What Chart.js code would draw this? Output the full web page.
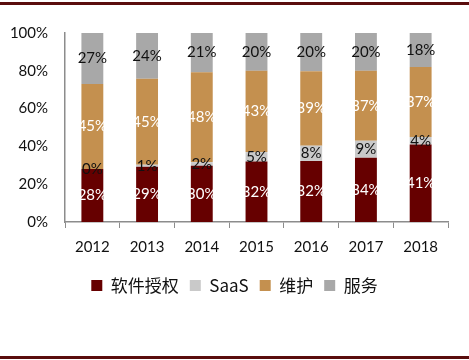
<!DOCTYPE html>
<html>
<head>
<meta charset="utf-8">
<script src="https://cdn.jsdelivr.net/npm/chart.js@4"></script>
<style>
  html, body { margin: 0; padding: 0; background: #fff; }
  #wrap { position: relative; width: 469px; height: 360px; overflow: hidden; }
  #topline { position: absolute; left: 0; top: 2px; width: 469px; height: 3px; background: #5a0d0d; }
  #botline { position: absolute; left: 0; top: 356px; width: 469px; height: 3px; background: #5a0d0d; }
  canvas { position: absolute; left: 0; top: 0; }
</style>
</head>
<body>
<div id="wrap">
  <canvas id="c" width="469" height="360"></canvas>
  <div id="topline"></div>
  <div id="botline"></div>
</div>
<script>
const categories = ['2012', '2013', '2014', '2015', '2016', '2017', '2018'];
const license  = [28, 29, 30, 32, 32, 34, 41];
const saas     = [0, 1, 2, 5, 8, 9, 4];
const maintain = [45, 45, 48, 43, 39, 37, 37];
const service  = [27, 24, 21, 20, 20, 20, 18];
const yTicks = ['0%', '20%', '40%', '60%', '80%', '100%'];

const seriesNames = ['软件授权', 'SaaS', '维护', '服务'];
const seriesColors = ['#660000', '#c9c9c9', '#c4904f', '#a8a8a8'];
const labelColors = ['#ffffff', '#111111', '#ffffff', '#111111'];
const raw = [license, saas, maintain, service];

const totals = categories.map((_, i) => raw.reduce((s, arr) => s + arr[i], 0));

const datasets = raw.map((arr, k) => ({
  label: seriesNames[k],
  data: arr.map((v, i) => v / totals[i] * 100),
  rawValues: arr,
  backgroundColor: seriesColors[k],
  labelColor: labelColors[k],
  borderWidth: 0,
  categoryPercentage: 0.8,
  barPercentage: 0.5
}));

const valueLabels = {
  id: 'valueLabels',
  afterDatasetsDraw(chart) {
    const ctx = chart.ctx;
    ctx.save();
    ctx.font = '15px Lato, "Liberation Sans", sans-serif';
    ctx.textAlign = 'center';
    ctx.textBaseline = 'middle';
    chart.data.datasets.forEach((ds, di) => {
      const meta = chart.getDatasetMeta(di);
      meta.data.forEach((bar, i) => {
        const y = (bar.y + bar.base) / 2;
        ctx.fillStyle = ds.labelColor;
        ctx.fillText(ds.rawValues[i] + '%', bar.x, y);
      });
    });
    ctx.restore();
  }
};

new Chart(document.getElementById('c'), {
  type: 'bar',
  data: { labels: categories, datasets },
  options: {
    responsive: false,
    animation: false,
    layout: { padding: { left: 0, right: 0, top: 33, bottom: 56 } },
    plugins: {
      legend: {
        position: 'bottom',
        labels: {
          boxWidth: 11,
          boxHeight: 11,
          padding: 11,
          color: '#111',
          font: { family: '"Noto Sans CJK SC", sans-serif', size: 17 }
        }
      },
      tooltip: { enabled: false }
    },
    scales: {
      x: {
        stacked: true,
        grid: { display: true, drawOnChartArea: false, drawTicks: true, tickLength: 6, color: '#8c8c8c', offset: true },
        border: { display: true, color: '#8c8c8c', width: 1.5 },
        ticks: { color: '#111', padding: 10, font: { family: 'Lato, "Liberation Sans", sans-serif', size: 15 } }
      },
      y: {
        stacked: true,
        min: 0,
        max: 100,
        afterFit: s => { s.width = 65; },
        grid: { display: false, drawTicks: false },
        border: { display: true, color: '#8c8c8c', width: 1.5 },
        ticks: {
          stepSize: 20,
          padding: 17,
          color: '#111',
          font: { family: 'Lato, "Liberation Sans", sans-serif', size: 15 },
          callback: (v) => yTicks[Math.round(v / 20)]
        }
      },
      yRight: {
        type: 'linear',
        position: 'right',
        display: true,
        afterFit: s => { s.width = 21; },
        grid: { display: false, drawTicks: false },
        border: { display: false },
        ticks: { display: false }
      }
    }
  },
  plugins: [valueLabels]
});
</script>
</body>
</html>
